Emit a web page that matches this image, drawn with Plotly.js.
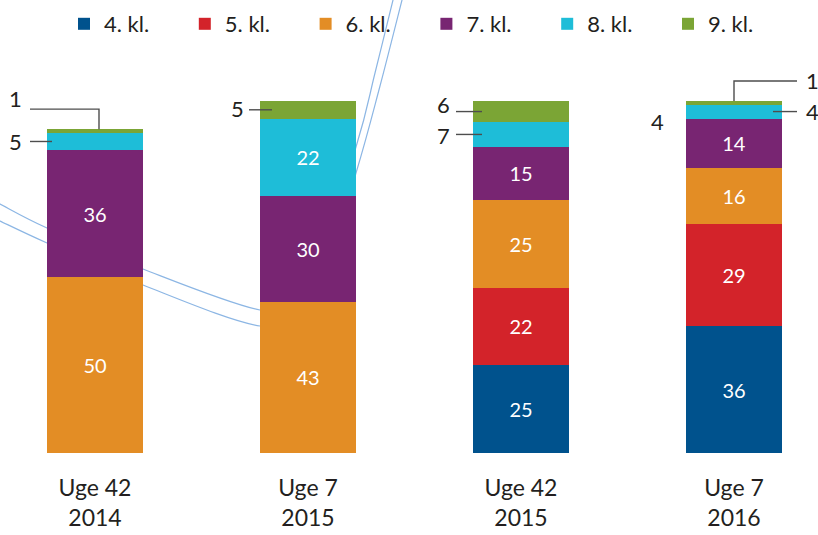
<!DOCTYPE html>
<html>
<head>
<meta charset="utf-8">
<script src="https://cdn.plot.ly/plotly-3.0.1.min.js"></script>
<style>html,body{margin:0;padding:0;background:#fff}#chart{width:818px;height:535px}</style>
</head>
<body>
<div id="chart"></div>
<script>
// ---- data ----
var categories = ["Uge 42<br>2014", "Uge 7<br>2015", "Uge 42<br>2015", "Uge 7<br>2016"];
var seriesNames = ["4. kl.", "5. kl.", "6. kl.", "7. kl.", "8. kl.", "9. kl."];
var kl4 = [0, 0, 25, 36];
var kl5 = [0, 0, 22, 29];
var kl6 = [50, 43, 25, 16];
var kl7 = [36, 30, 15, 14];
var kl8 = [5, 22, 7, 4];
var kl9 = [1, 5, 6, 1];

// ---- style ----
var colors = ["#00528d", "#d3232a", "#e38d25", "#782572", "#1ebdd8", "#7ba535"];
var FONT = "Lato, 'Open Sans', sans-serif";
var DARK = "#231f20";
var W = 818, H = 535, ML = 0, MR = 0, MT = 60, MB = 82;
var plotH = H - MT - MB;
var pxPerCat = 213, firstCenter = 95, pxPerUnit = 3.52;
var xr = [-firstCenter / pxPerCat, (W - firstCenter) / pxPerCat];
var yr = [0, plotH / pxPerUnit];
var barW = 96 / pxPerCat;
function dx(px) { return px / pxPerCat; }

var series = [kl4, kl5, kl6, kl7, kl8, kl9];
var xs = categories.map(function (c, i) { return i; });
var traces = series.map(function (vals, s) {
  return {
    type: "bar", name: seriesNames[s], x: xs, y: vals,
    width: barW,
    marker: { color: colors[s], line: { width: 0 } },
    text: vals.map(function (v) { return v >= 10 ? String(v) : ""; }),
    textposition: "inside", insidetextanchor: "middle", constraintext: "none",
    textfont: { family: FONT, size: 20, color: "#ffffff" },
    hoverinfo: "skip"
  };
});

// cumulative helpers (segment mid / top) from data
function cumBelow(s, i) { var t = 0; for (var k = 0; k < s; k++) t += series[k][i]; return t; }
function segMid(s, i) { return cumBelow(s, i) + series[s][i] / 2; }
function segTop(s, i) { return cumBelow(s, i) + series[s][i]; }

var lineStyle = { color: "#4d4d4d", width: 1.4 };
var shapes = [], annotations = [];
function label(x, y, txt) {
  annotations.push({ x: x, y: y, xref: "x", yref: "y", text: txt, showarrow: false,
    xanchor: "center", yanchor: "middle", font: { family: FONT, size: 22, color: DARK } });
}
function hline(x0, x1, y) {
  shapes.push({ type: "line", xref: "x", yref: "y", x0: x0, x1: x1, y0: y, y1: y, line: lineStyle, layer: "above" });
}
function half() { return barW / 2; }
// Bar 0: 8. kl. (5) left leader, 9. kl. (1) elbow
hline(0 - half() - dx(17), 0 - half() + dx(5), segMid(4, 0));
label(0 - half() - dx(32), segMid(4, 0), String(kl8[0]));
var y9top0 = segTop(5, 0), yElb0 = y9top0 + 20 / pxPerUnit;
shapes.push({ type: "path", xref: "x", yref: "y", line: lineStyle, layer: "above",
  path: "M" + (0 - half() - dx(17)) + "," + yElb0 + " L" + (0 + dx(4)) + "," + yElb0 + " L" + (0 + dx(4)) + "," + y9top0 });
label(0 - half() - dx(32), yElb0 + 11 / pxPerUnit, String(kl9[0]));
// Bar 1: 9. kl. (5)
hline(1 - half() - dx(11), 1 - half() + dx(12), segMid(5, 1));
label(1 - half() - dx(23), segMid(5, 1) + 1 / pxPerUnit, String(kl9[1]));
// Bar 2: 9. kl. (6), 8. kl. (7)
hline(2 - half() - dx(17), 2 - half() + dx(9), segMid(5, 2));
label(2 - half() - dx(30), segMid(5, 2) + 7 / pxPerUnit, String(kl9[2]));
hline(2 - half() - dx(17), 2 - half() + dx(9), segMid(4, 2));
label(2 - half() - dx(30), segMid(4, 2) - 1 / pxPerUnit, String(kl8[2]));
// Bar 3: 8. kl. (4) right leader, 9. kl. (1) elbow, stray 4 left
hline(3 + half() - dx(9), 3 + half() + dx(15), segMid(4, 3));
label(3 + half() + dx(30), segMid(4, 3), String(kl8[3]));
var y9top3 = segTop(5, 3), yElb3 = y9top3 + 20 / pxPerUnit;
shapes.push({ type: "path", xref: "x", yref: "y", line: lineStyle, layer: "above",
  path: "M" + 3 + "," + y9top3 + " L" + 3 + "," + yElb3 + " L" + (3 + half() + dx(15)) + "," + yElb3 });
label(3 + half() + dx(30), yElb3 + 1 / pxPerUnit, String(kl9[3]));
label(3 - half() - dx(29), segMid(4, 3) - 10 / pxPerUnit, String(kl8[3]));

// decorative swoosh lines (pixel points -> paper coords)
function toPaper(p) { return [(p[0] - ML) / (W - ML - MR), (H - MB - p[1]) / plotH]; }
function crPath(pts) {
  var P = pts.map(toPaper), d = "M" + P[0][0] + "," + P[0][1];
  for (var i = 0; i < P.length - 1; i++) {
    var p0 = P[Math.max(i - 1, 0)], p1 = P[i], p2 = P[i + 1], p3 = P[Math.min(i + 2, P.length - 1)];
    var c1 = [p1[0] + (p2[0] - p0[0]) / 6, p1[1] + (p2[1] - p0[1]) / 6];
    var c2 = [p2[0] - (p3[0] - p1[0]) / 6, p2[1] - (p3[1] - p1[1]) / 6];
    d += " C" + c1[0] + "," + c1[1] + " " + c2[0] + "," + c2[1] + " " + p2[0] + "," + p2[1];
  }
  return d;
}
var swooshA = [[-6, 201], [0, 204], [47, 228], [143, 269], [260, 310], [305, 300], [356, 147], [375, 73], [393, 0], [395, -8]];
var swooshB = [[-6, 218], [0, 221], [47, 243], [143, 285], [260, 326], [312, 312], [356, 173], [380, 86], [402, 0], [404, -8]];
[swooshA, swooshB].forEach(function (pts) {
  shapes.push({ type: "path", xref: "paper", yref: "paper", layer: "below",
    path: crPath(pts), line: { color: "#8cb6e4", width: 1.2 } });
});

var layout = {
  width: W, height: H,
  margin: { l: ML, r: MR, t: MT, b: MB, pad: 0 },
  paper_bgcolor: "#ffffff", plot_bgcolor: "rgba(0,0,0,0)",
  barmode: "stack",
  font: { family: FONT, color: DARK },
  xaxis: { range: xr, tickmode: "array", tickvals: xs, ticktext: categories,
    showgrid: false, zeroline: false, showline: false, ticks: "",
    tickfont: { family: FONT, size: 23, color: DARK }, ticklabelstandoff: 19, fixedrange: true },
  yaxis: { range: yr, visible: false, showgrid: false, zeroline: false, fixedrange: true },
  showlegend: true,
  legend: { orientation: "h", xref: "container", yref: "container", x: 64 / W, y: 1 - 24 / H,
    xanchor: "left", yanchor: "middle", traceorder: "normal",
    entrywidth: 75.8, entrywidthmode: "pixels",
    font: { family: FONT, size: 22, color: DARK }, bgcolor: "rgba(0,0,0,0)", borderwidth: 0 },
  shapes: shapes, annotations: annotations
};
Plotly.newPlot("chart", traces, layout, { displayModeBar: false, staticPlot: true });
</script>
</body>
</html>
